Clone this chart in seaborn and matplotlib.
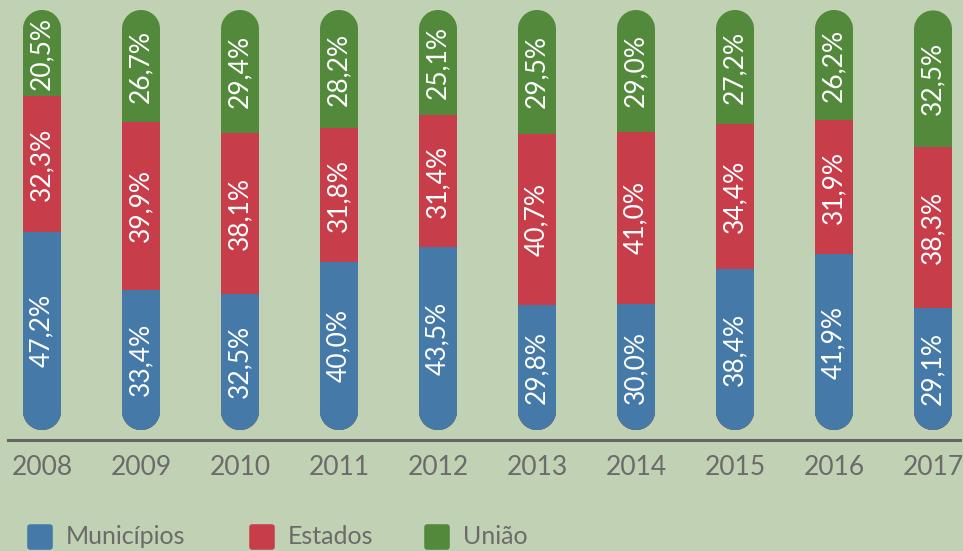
import matplotlib
matplotlib.use("Agg")
import matplotlib.pyplot as plt
from matplotlib.patches import PathPatch
from matplotlib.path import Path
from matplotlib.lines import Line2D
from matplotlib.markers import MarkerStyle
import numpy as np
import pandas as pd
import seaborn as sns

# Data
anos = ["2008", "2009", "2010", "2011", "2012", "2013", "2014", "2015", "2016", "2017"]
municipios = [47.2, 33.4, 32.5, 40.0, 43.5, 29.8, 30.0, 38.4, 41.9, 29.1]
estados = [32.3, 39.9, 38.1, 31.8, 31.4, 40.7, 41.0, 34.4, 31.9, 38.3]
uniao = [20.5, 26.7, 29.4, 28.2, 25.1, 29.5, 29.0, 27.2, 26.2, 32.5]
series = ["Municípios", "Estados", "União"]

# Style
BG = "#c1d1b3"
COLORS = ["#4479a8", "#c73d4a", "#52893a"]
TXT = "#6b6b6b"
BAR_W = 0.384

sns.set_theme(style="white")
plt.rcParams["font.family"] = ["Lato", "DejaVu Sans"]

df = pd.DataFrame({
    "ano": anos,
    "mun": municipios,
    "est": estados,
    "uni": uniao,
})
df["c_mun"] = df["mun"]
df["c_est"] = df["mun"] + df["est"]
df["c_uni"] = df["mun"] + df["est"] + df["uni"]

fig = plt.figure(figsize=(9.63, 5.51), dpi=100)
fig.patch.set_facecolor(BG)
ax = fig.add_axes([0, 111 / 551, 1, 440 / 551])
ax.set_facecolor(BG)

# stacked bars: draw totals first, then smaller cumulative sums on top
for col, color in zip(["c_uni", "c_est", "c_mun"], COLORS[::-1]):
    sns.barplot(data=df, x="ano", y=col, order=anos, color=color,
                saturation=1, width=BAR_W, linewidth=0, errorbar=None, ax=ax)

ax.set_xlim(-42 / 99, 921 / 99)
ax.set_ylim(-10 / 4.2, 100 + 10 / 4.2)
ax.set_xlabel("")
ax.set_ylabel("")
ax.set_yticks([])

# pill-shaped clip for each bar (round ends)
fig.canvas.draw()
p0 = ax.transData.transform((0, 0))
p1 = ax.transData.transform((1, 1))
aspect = (p1[0] - p0[0]) / (p1[1] - p0[1])
rx = BAR_W / 2
ry = rx * aspect
t_top = np.linspace(0, np.pi, 60)
t_bot = np.linspace(np.pi, 2 * np.pi, 60)
pills = []
for i in range(len(anos)):
    total = df["c_uni"][i]
    xs = np.concatenate([i + rx * np.cos(t_top), i + rx * np.cos(t_bot)])
    ys = np.concatenate([total - ry + ry * np.sin(t_top), ry + ry * np.sin(t_bot)])
    verts = np.column_stack([xs, ys])
    pill = PathPatch(Path(np.vstack([verts, verts[:1]]), closed=True),
                     transform=ax.transData, facecolor="none", edgecolor="none")
    ax.add_patch(pill)
    pills.append(pill)
for p in ax.patches:
    if p in pills:
        continue
    idx = int(round(p.get_x() + p.get_width() / 2))
    p.set_clip_path(pills[idx])

# value labels
for i in range(len(anos)):
    bottom = 0
    for vals in (municipios, estados, uniao):
        v = vals[i]
        ax.text(i, bottom + v / 2, f"{v:.1f}%".replace(".", ","), rotation=90,
                ha="center", va="center", color="white", fontsize=19)
        bottom += v

# axis
for s in ["top", "left", "right"]:
    ax.spines[s].set_visible(False)
ax.spines["bottom"].set_color("#666666")
ax.spines["bottom"].set_linewidth(2.2)
ax.spines["bottom"].set_bounds(-34 / 99, 918 / 99)
ax.tick_params(axis="x", length=0, pad=11, labelsize=19, labelcolor=TXT)

# legend
leg_x = [40, 262, 437]
leg_y = 1 - 537 / 551
for x, name, color in zip(leg_x, series, COLORS):
    fig.add_artist(Line2D([x / 963], [leg_y], transform=fig.transFigure,
                          marker=MarkerStyle("s", joinstyle="round"),
                          markersize=14, markeredgewidth=4,
                          markerfacecolor=color, markeredgecolor=color, ls=""))
    fig.text((x + 26) / 963, leg_y, name, ha="left", va="center",
             fontsize=18, color=TXT)

fig.savefig("out.png", dpi=100, facecolor=BG)
